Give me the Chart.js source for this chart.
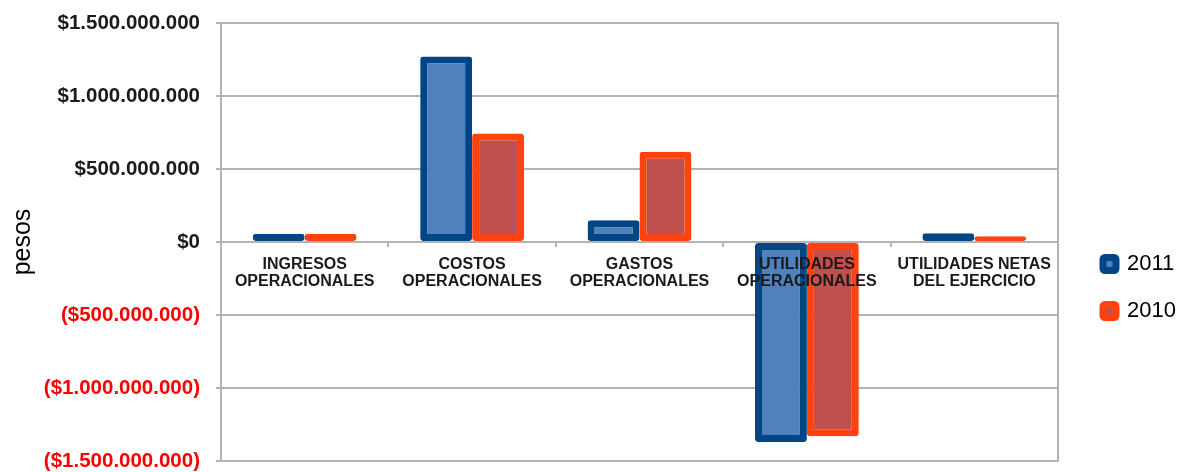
<!DOCTYPE html>
<html lang="es">
<head>
<meta charset="utf-8">
<title>Resultados 2011 vs 2010</title>
<script src="https://cdn.jsdelivr.net/npm/chart.js@4.4.1/dist/chart.umd.min.js"></script>
<style>
  html, body { margin: 0; padding: 0; background: #fff; }
  canvas { display: block; }
</style>
</head>
<body>
<canvas id="chart" width="1178" height="472"></canvas>
<script>
const categories = [
  ['INGRESOS', 'OPERACIONALES'],
  ['COSTOS', 'OPERACIONALES'],
  ['GASTOS', 'OPERACIONALES'],
  ['UTILIDADES', 'OPERACIONALES'],
  ['UTILIDADES NETAS', 'DEL EJERCICIO']
];
const seriesNames = ['2011', '2010'];
const values2011 = [57e6, 1271e6, 149e6, -1370e6, 60e6];
const values2010 = [57e6, 743e6, 619e6, -1331e6, 39e6];
const yMin = -1.5e9, yMax = 1.5e9, yStep = 5e8;

const $ = (id) => document.getElementById(id);
const GRID = '#b3b3b3';
const withDots = (n) => String(Math.abs(n)).replace(/\B(?=(\d{3})+(?!\d))/g, '.');
const fmtPesos = (v) => v < 0 ? '($' + withDots(v) + ')' : '$' + withDots(v);

Chart.defaults.font.family = '"Liberation Sans", Arial, sans-serif';

const barStyle = { borderWidth: 7, borderRadius: 3, borderSkipped: false, categoryPercentage: 0.62, barPercentage: 1 };

new Chart($('chart'), {
  type: 'bar',
  data: {
    labels: categories,
    datasets: [
      { label: seriesNames[0], data: values2011, backgroundColor: '#4f81bd', borderColor: '#004586', ...barStyle },
      { label: seriesNames[1], data: values2010, backgroundColor: '#c0504d', borderColor: '#ff420e', ...barStyle }
    ]
  },
  options: {
    responsive: false,
    animation: false,
    layout: { padding: 0 },
    scales: {
      x: {
        position: { y: 0 },
        grid: { drawOnChartArea: false, color: GRID, lineWidth: 2, tickLength: 5 },
        border: { display: false },
        ticks: { z: 1, color: '#1a1a1a', font: { size: 16, weight: 'bold', lineHeight: 1.05 }, padding: 9, maxRotation: 0, autoSkip: false }
      },
      y: {
        min: yMin, max: yMax,
        grid: { color: GRID, lineWidth: 2, tickLength: 5 },
        border: { color: GRID, width: 2 },
        ticks: {
          stepSize: yStep,
          callback: fmtPesos,
          color: (c) => c.tick && c.tick.value < 0 ? '#ff0000' : '#1a1a1a',
          font: { size: 20.5, weight: 'bold' },
          padding: 16
        },
        title: { display: true, text: 'pesos', color: '#000', font: { size: 25 }, padding: { top: 8, bottom: 0 } },
        afterFit: (s) => { s.width = 221; s.paddingTop = 23; s.paddingBottom = 11; }
      },
      yRight: {
        position: 'right',
        min: yMin, max: yMax,
        grid: { display: false },
        border: { color: GRID, width: 2 },
        ticks: { display: false },
        afterFit: (s) => { s.width = 20; }
      }
    },
    plugins: {
      legend: {
        position: 'right',
        align: 'start',
        maxWidth: 100,
        title: { display: true, text: '', font: { size: 10, lineHeight: 1 }, padding: { top: 0, bottom: 218 } },
        labels: { boxWidth: 13, boxHeight: 13, padding: 25, color: '#000', font: { size: 22 }, useBorderRadius: true, borderRadius: 2 }
      },
      tooltip: { enabled: false }
    }
  }
});
</script>
</body>
</html>
